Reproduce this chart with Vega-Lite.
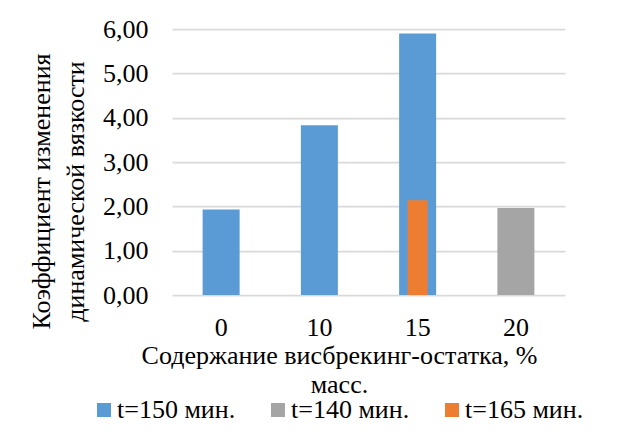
{
  "$schema": "https://vega.github.io/schema/vega-lite/v6.json",
  "width": 393,
  "height": 266,
  "autosize": {"type": "none"},
  "padding": {"left": 172, "top": 29, "right": 52, "bottom": 137},
  "background": "white",
  "config": {
    "view": {"stroke": null},
    "font": "Liberation Serif",
    "axis": {"labelFont": "Liberation Serif", "titleFont": "Liberation Serif", "labelColor": "#000000", "titleColor": "#000000", "titleFontWeight": "normal"},
    "legend": {"labelFont": "Liberation Serif", "labelColor": "#000000"}
  },
  "data": {
    "values": [
      {"c": "0", "series": "t=150 мин.", "v": 1.93},
      {"c": "10", "series": "t=150 мин.", "v": 3.83},
      {"c": "15", "series": "t=150 мин.", "v": 5.90},
      {"c": "20", "series": "t=140 мин.", "v": 1.96},
      {"c": "15", "series": "t=165 мин.", "v": 2.14}
    ]
  },
  "encoding": {
    "x": {
      "field": "c", "type": "nominal", "sort": ["0", "10", "15", "20"],
      "scale": {"domain": ["0", "10", "15", "20"], "paddingInner": 0, "paddingOuter": 0},
      "axis": {
        "title": ["Содержание висбрекинг-остатка, %", "масс."],
        "titleFontSize": 26, "titleLineHeight": 29, "titleX": 167, "titleY": 60,
        "titleAlign": "center", "titleBaseline": "middle", "titleAnchor": null,
        "labelFontSize": 26, "labelAngle": 0, "labelPadding": 32, "labelBaseline": "middle",
        "ticks": false, "domain": false, "grid": false
      }
    },
    "y": {
      "field": "v", "type": "quantitative",
      "scale": {"domain": [0, 6], "nice": false},
      "axis": {
        "title": ["Коэффициент изменения", "динамической вязкости"],
        "titleFontSize": 26, "titleLineHeight": 34, "titleAngle": -90,
        "titleX": -131, "titleY": 162, "titleAlign": "center", "titleBaseline": "middle",
        "values": [0, 1, 2, 3, 4, 5, 6],
        "labelExpr": "replace(format(datum.value, '.2f'), '.', ',')",
        "labelFontSize": 26, "labelPadding": 24,
        "ticks": false, "domain": false,
        "grid": true, "gridColor": "#d9d9d9", "gridWidth": 1.75
      }
    },
    "color": {
      "field": "series", "type": "nominal",
      "scale": {"domain": ["t=150 мин.", "t=140 мин.", "t=165 мин."], "range": ["#5b9bd5", "#a5a5a5", "#ed7d31"]},
      "legend": {
        "title": null, "orient": "none", "direction": "horizontal",
        "legendX": -81, "legendY": 368, "padding": 0,
        "symbolType": "square", "symbolSize": 196, "symbolStrokeWidth": 0, "symbolOpacity": 1,
        "labelFontSize": 26, "labelOffset": 0, "columnPadding": 29
      }
    }
  },
  "layer": [
    {
      "transform": [{"filter": "datum.series != 't=165 мин.'"}],
      "mark": {"type": "bar", "size": 37}
    },
    {
      "transform": [{"filter": "datum.series == 't=165 мин.'"}],
      "mark": {"type": "bar", "size": 20}
    }
  ]
}
